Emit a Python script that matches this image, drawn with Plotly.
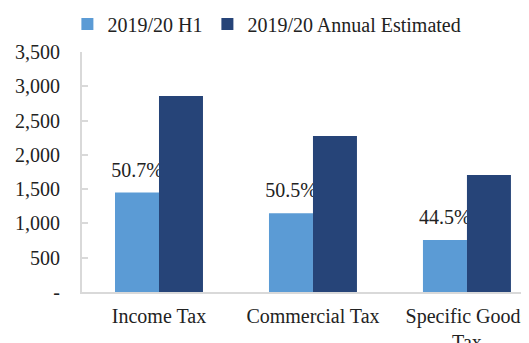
import plotly.graph_objects as go

categories = ["Income Tax", "Commercial Tax", "Specific Goods<br>Tax"]
h1_values = [1450, 1150, 760]
annual_values = [2860, 2275, 1705]
h1_labels = ["50.7%", "50.5%", "44.5%"]
ytick_vals = [0, 500, 1000, 1500, 2000, 2500, 3000, 3500]
ytick_text = ["-", "500", "1,000", "1,500", "2,000", "2,500", "3,000", "3,500"]

FONT = "Liberation Serif"
FS = 20
BARGAP = 0.4286
xpos = list(range(len(categories)))
# centre of the first (H1) bar in each group, from the bar gap
h1_offset = -(1 - BARGAP) / 4
label_x = [p + h1_offset for p in xpos]

fig = go.Figure()
# data labels on the base axes, so the bars (on the overlay axes) are drawn over them
fig.add_trace(go.Scatter(
    x=label_x, y=h1_values, mode="markers+text", text=h1_labels,
    textposition="top center", marker=dict(size=16, opacity=0),
    textfont=dict(family=FONT, size=FS, color="#222222"),
    showlegend=False, hoverinfo="skip", cliponaxis=False,
    xaxis="x", yaxis="y",
))
fig.add_trace(go.Bar(
    name="2019/20 H1", x=xpos, y=h1_values,
    marker=dict(color="#5b9bd5", line=dict(width=0)),
    xaxis="x2", yaxis="y2",
))
fig.add_trace(go.Bar(
    name="2019/20 Annual Estimated", x=xpos, y=annual_values,
    marker=dict(color="#264478", line=dict(width=0)),
    xaxis="x2", yaxis="y2",
))

XR = [-0.5, 2.403]
fig.update_layout(
    width=521, height=335,
    margin=dict(l=74, r=0, t=44, b=51, autoexpand=False),
    paper_bgcolor="white", plot_bgcolor="white",
    barmode="group", bargap=BARGAP, bargroupgap=0,
    font=dict(family=FONT, size=FS, color="#222222"),
    showlegend=True,
    legend=dict(orientation="h", xref="container", yref="container",
                x=0.114, y=0.952, xanchor="left", yanchor="middle",
                font=dict(family=FONT, size=FS, color="#222222"),
                itemwidth=30, traceorder="normal", bgcolor="rgba(0,0,0,0)"),
    xaxis=dict(range=XR, tickvals=xpos, ticktext=categories,
               showline=True, linecolor="#d9d9d9", linewidth=2,
               ticks="", showgrid=False, zeroline=False, ticklabelstandoff=5,
               tickfont=dict(family=FONT, size=FS),
               automargin=False, fixedrange=True),
    yaxis=dict(range=[0, 3500], tickvals=ytick_vals, ticktext=ytick_text,
               showline=True, linecolor="#d9d9d9", linewidth=2,
               ticks="inside", ticklen=6, tickcolor="#d9d9d9", tickwidth=2,
               showgrid=False, zeroline=False, ticklabelstandoff=16,
               tickfont=dict(family=FONT, size=FS), automargin=False, fixedrange=True),
    xaxis2=dict(overlaying="x", matches="x", visible=False, range=XR, fixedrange=True),
    yaxis2=dict(overlaying="y", matches="y", visible=False, range=[0, 3500], fixedrange=True),
)

fig.write_html("out.html", config={"displayModeBar": False})
